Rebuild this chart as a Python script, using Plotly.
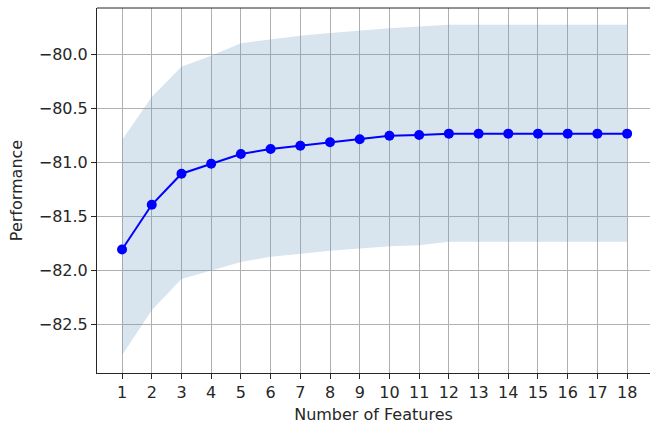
import plotly.graph_objects as go

n_features = list(range(1, 19))
performance = [-81.806, -81.391, -81.103, -81.010, -80.920, -80.874, -80.843, -80.811,
               -80.783, -80.750, -80.743, -80.731, -80.731, -80.731, -80.731, -80.731,
               -80.731, -80.731]
upper = [-80.79, -80.39, -80.11, -80.009, -79.891, -79.854, -79.823, -79.798, -79.774,
         -79.752, -79.737, -79.721, -79.721, -79.721, -79.721, -79.721, -79.721, -79.721]
lower = [-82.788, -82.37, -82.08, -81.998, -81.921, -81.874, -81.843, -81.818, -81.797,
         -81.775, -81.766, -81.735, -81.735, -81.735, -81.735, -81.735, -81.735, -81.735]
y_ticks = [-80.0, -80.5, -81.0, -81.5, -82.0, -82.5]
y_ticklabels = ["\u221280.0", "\u221280.5", "\u221281.0", "\u221281.5", "\u221282.0", "\u221282.5"]

fig = go.Figure()
fig.add_trace(go.Scatter(x=n_features, y=upper, mode="lines", line=dict(width=0),
                         showlegend=False, hoverinfo="skip"))
fig.add_trace(go.Scatter(x=n_features, y=lower, mode="lines", line=dict(width=0),
                         fill="tonexty", fillcolor="rgba(100,150,190,0.25)",
                         showlegend=False, hoverinfo="skip"))
fig.add_trace(go.Scatter(x=n_features, y=performance, mode="lines+markers",
                         line=dict(color="#0000ff", width=2),
                         marker=dict(color="#0000ff", size=10),
                         showlegend=False))

font = dict(family="DejaVu Sans", size=16, color="#262626")
fig.update_layout(
    width=650, height=424,
    margin=dict(l=97, r=0, t=8, b=51, autoexpand=False),
    paper_bgcolor="white", plot_bgcolor="white",
    font=font,
    xaxis=dict(range=[0.157, 18.77], tickmode="array", tickvals=n_features,
               ticktext=[str(v) for v in n_features],
               showgrid=True, gridcolor="#b0b0b0", gridwidth=1,
               showline=True, linecolor="#262626", linewidth=1, mirror=False,
               ticks="outside", ticklen=5, tickwidth=1, tickcolor="#262626",
               zeroline=False,
               title=dict(text="Number of Features", font=dict(size=16), standoff=7)),
    yaxis=dict(range=[-82.952, -79.565], tickmode="array", tickvals=y_ticks,
               ticktext=y_ticklabels,
               showgrid=True, gridcolor="#b0b0b0", gridwidth=1,
               showline=True, linecolor="#262626", linewidth=1, mirror=False,
               ticks="outside", ticklen=5, tickwidth=1, tickcolor="#262626",
               zeroline=False,
               title=dict(text="Performance", font=dict(size=16), standoff=12)),
    shapes=[dict(type="line", xref="paper", yref="paper", x0=0, x1=1, y0=1, y1=1,
                 line=dict(color="#262626", width=1))],
)

fig.write_html("out.html", config={"displayModeBar": False},
               post_script="document.body.style.margin='0';document.body.style.overflow='hidden';")
